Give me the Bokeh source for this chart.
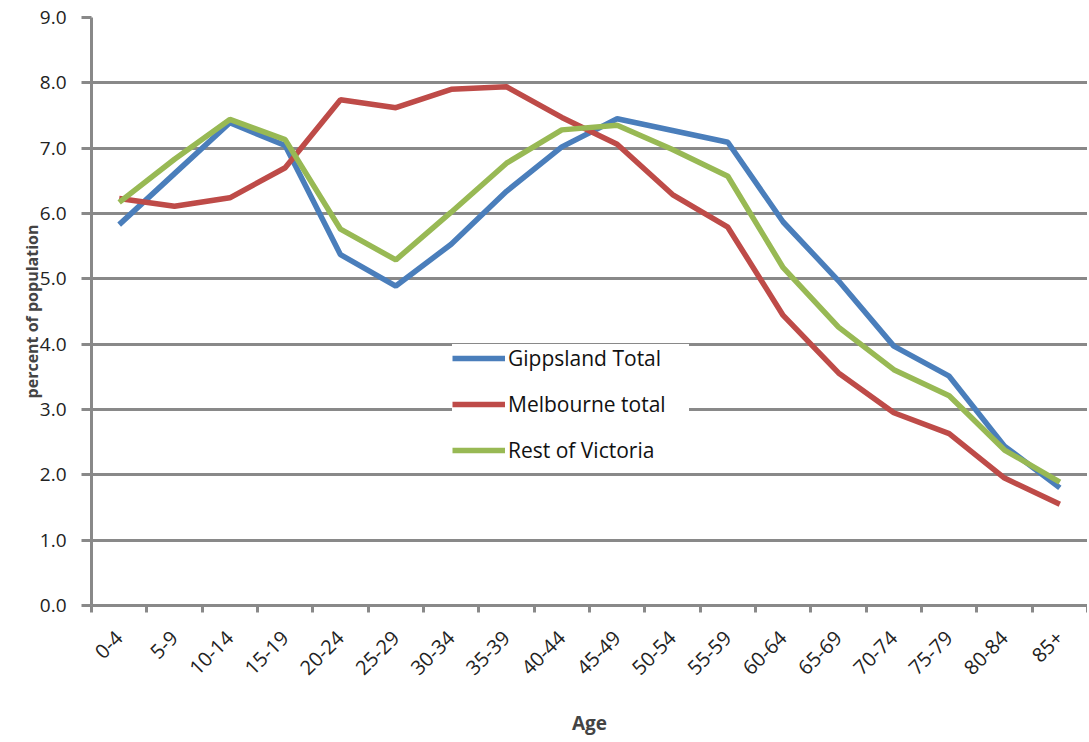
from bokeh.plotting import figure
from bokeh.models import (ColumnDataSource, Range1d, LinearAxis,
                          FixedTicker, NumeralTickFormatter, Legend, LegendItem)
from bokeh.embed import file_html
from bokeh.resources import INLINE
from math import pi

ages = ["0-4", "5-9", "10-14", "15-19", "20-24", "25-29", "30-34", "35-39", "40-44",
        "45-49", "50-54", "55-59", "60-64", "65-69", "70-74", "75-79", "80-84", "85+"]
gippsland = [5.83, 6.61, 7.39, 7.04, 5.37, 4.89, 5.53, 6.34, 7.02,
             7.45, 7.27, 7.09, 5.87, 4.97, 3.97, 3.51, 2.44, 1.80]
melbourne = [6.23, 6.11, 6.24, 6.70, 7.74, 7.62, 7.90, 7.94, 7.47,
             7.06, 6.29, 5.79, 4.44, 3.56, 2.95, 2.63, 1.95, 1.55]
rest_vic = [6.17, 6.83, 7.44, 7.13, 5.76, 5.29, 6.02, 6.77, 7.28,
            7.35, 6.98, 6.57, 5.17, 4.26, 3.61, 3.21, 2.38, 1.89]
series_names = ["Gippsland Total", "Melbourne total", "Rest of Victoria"]
y_ticks = [0, 1, 2, 3, 4, 5, 6, 7, 8, 9]

colors = ["#4a7ebb", "#be4b48", "#98b954"]
GRID = "#898989"
FONT = "Open Sans"

# category slots: each age group is centred in its own unit-wide slot
centers = [i + 0.5 for i in range(len(ages))]
bounds = list(range(len(ages) + 1))

source = ColumnDataSource(dict(x=centers, age=ages, g=gippsland, m=melbourne, r=rest_vic))

p = figure(width=1087, height=742, x_range=Range1d(0, len(ages)),
           y_range=Range1d(0, 9), x_axis_location=None, y_axis_location=None,
           output_backend="svg", toolbar_location=None,
           min_border_left=91, min_border_right=0, min_border_top=17, min_border_bottom=137)
p.outline_line_color = None
p.background_fill_color = "white"
p.border_fill_color = "white"

# y axis
yaxis = LinearAxis(ticker=FixedTicker(ticks=y_ticks), formatter=NumeralTickFormatter(format="0.0"))
yaxis.axis_line_color = GRID
yaxis.axis_line_width = 3
yaxis.major_tick_line_color = GRID
yaxis.major_tick_line_width = 3
yaxis.major_tick_out = 10
yaxis.major_tick_in = 0
yaxis.minor_tick_line_color = None
yaxis.major_label_text_font = FONT
yaxis.major_label_text_font_size = "19px"
yaxis.major_label_text_color = "#222222"
yaxis.major_label_standoff = 15
yaxis.axis_label = "percent of population"
yaxis.axis_label_text_font = FONT
yaxis.axis_label_text_font_style = "bold"
yaxis.axis_label_text_font_size = "16px"
yaxis.axis_label_standoff = -6
p.add_layout(yaxis, "left")

# x axis: labels at slot centres, tick marks at slot boundaries (minor ticks)
xaxis = LinearAxis(ticker=FixedTicker(ticks=centers, minor_ticks=bounds),
                   major_label_overrides={c: a for c, a in zip(centers, ages)})
xaxis.axis_line_color = GRID
xaxis.axis_line_width = 3
xaxis.major_tick_line_color = None
xaxis.major_tick_out = 25
xaxis.major_tick_in = 0
xaxis.minor_tick_line_color = GRID
xaxis.minor_tick_line_width = 3
xaxis.minor_tick_out = 7
xaxis.minor_tick_in = 0
xaxis.major_label_orientation = pi / 4
xaxis.major_label_text_font = FONT
xaxis.major_label_text_font_size = "20px"
xaxis.major_label_text_color = "#222222"
xaxis.major_label_standoff = 4
xaxis.axis_label = "Age"
xaxis.axis_label_text_font = FONT
xaxis.axis_label_text_font_style = "bold"
xaxis.axis_label_text_font_size = "19px"
xaxis.axis_label_standoff = 26
p.add_layout(xaxis, "below")

p.xgrid.visible = False
p.ygrid.ticker = FixedTicker(ticks=y_ticks)
p.ygrid.grid_line_color = GRID
p.ygrid.grid_line_width = 3
p.grid.level = "underlay"

r1 = p.line("x", "g", source=source, line_color=colors[0], line_width=5.5)
r2 = p.line("x", "m", source=source, line_color=colors[1], line_width=5.5)
r3 = p.line("x", "r", source=source, line_color=colors[2], line_width=5.5)

legend = Legend(items=[LegendItem(label=series_names[0], renderers=[r1]),
                       LegendItem(label=series_names[1], renderers=[r2]),
                       LegendItem(label=series_names[2], renderers=[r3])],
                location=(361, 141))
legend.border_line_color = None
legend.background_fill_color = "white"
legend.background_fill_alpha = 1
legend.label_text_font = FONT
legend.label_text_font_size = "21px"
legend.label_text_color = "#111111"
legend.glyph_width = 53
legend.glyph_height = 20
legend.label_height = 20
legend.label_width = 181
legend.spacing = 18
legend.padding = 12
legend.margin = 0
legend.label_standoff = 3
p.add_layout(legend, "center")

open("out.html", "w").write(file_html(p, INLINE))
